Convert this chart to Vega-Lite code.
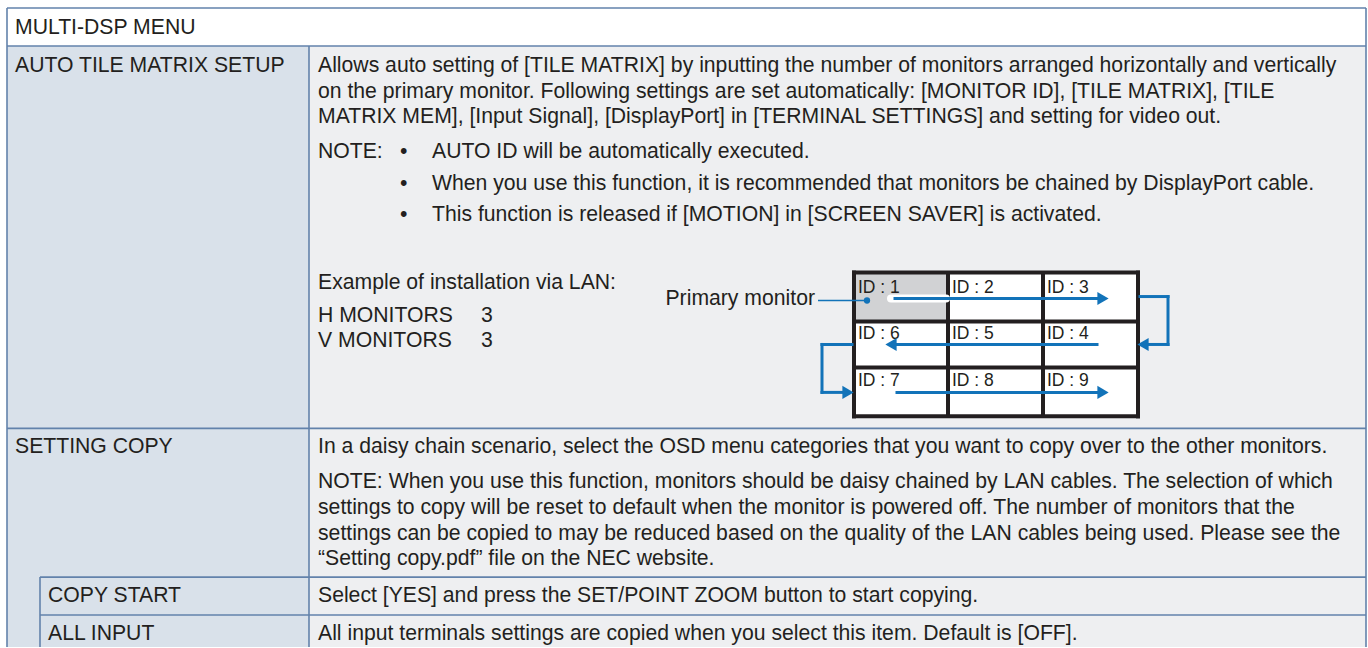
{
  "$schema": "https://vega.github.io/schema/vega-lite/v6.json",
  "width": 1368,
  "height": 648,
  "padding": 0,
  "autosize": {"type": "fit", "contains": "padding"},
  "background": "#ffffff",
  "config": {"view": {"stroke": null}},
  "datasets": {
    "rects": [
      {"x": 7, "x2": 1366, "y": 8, "y2": 46, "kind": "header"},
      {"x": 7, "x2": 309, "y": 46, "y2": 648, "kind": "label"},
      {"x": 309, "x2": 1366, "y": 46, "y2": 648, "kind": "body"},
      {"x": 854, "x2": 948, "y": 273, "y2": 322, "kind": "shade"},
      {"x": 948, "x2": 1043, "y": 273, "y2": 322, "kind": "cell"},
      {"x": 1043, "x2": 1138, "y": 273, "y2": 322, "kind": "cell"},
      {"x": 854, "x2": 948, "y": 322, "y2": 368, "kind": "cell"},
      {"x": 948, "x2": 1043, "y": 322, "y2": 368, "kind": "cell"},
      {"x": 1043, "x2": 1138, "y": 322, "y2": 368, "kind": "cell"},
      {"x": 854, "x2": 948, "y": 368, "y2": 417, "kind": "cell"},
      {"x": 948, "x2": 1043, "y": 368, "y2": 417, "kind": "cell"},
      {"x": 1043, "x2": 1138, "y": 368, "y2": 417, "kind": "cell"}
    ],
    "borders": [
      {"x": 7, "x2": 1366, "y": 8, "y2": 8},
      {"x": 7, "x2": 1366, "y": 46, "y2": 46},
      {"x": 7, "x2": 1366, "y": 429, "y2": 429},
      {"x": 40, "x2": 1366, "y": 578, "y2": 578},
      {"x": 40, "x2": 1366, "y": 616, "y2": 616},
      {"x": 7, "x2": 7, "y": 8, "y2": 648},
      {"x": 1366, "x2": 1366, "y": 8, "y2": 648},
      {"x": 309, "x2": 309, "y": 46, "y2": 648},
      {"x": 40, "x2": 40, "y": 578, "y2": 648}
    ],
    "grid": [
      {"x": 854, "x2": 854, "y": 271, "y2": 419},
      {"x": 948, "x2": 948, "y": 273, "y2": 417},
      {"x": 1043, "x2": 1043, "y": 273, "y2": 417},
      {"x": 1138, "x2": 1138, "y": 271, "y2": 419},
      {"x": 852, "x2": 1140, "y": 273, "y2": 273},
      {"x": 854, "x2": 1138, "y": 322, "y2": 322},
      {"x": 854, "x2": 1138, "y": 368, "y2": 368},
      {"x": 852, "x2": 1140, "y": 417, "y2": 417}
    ],
    "halo": [
      {"x": 891, "x2": 946, "y": 299, "y2": 299}
    ],
    "paths": [
      {"x": 895, "x2": 1098, "y": 299, "y2": 299},
      {"x": 1097, "x2": 896, "y": 345, "y2": 345},
      {"x": 897, "x2": 1098, "y": 393, "y2": 393},
      {"x": 1140, "x2": 1168, "y": 297, "y2": 297},
      {"x": 1168, "x2": 1168, "y": 297, "y2": 345},
      {"x": 1168, "x2": 1147, "y": 345, "y2": 345},
      {"x": 852, "x2": 822, "y": 345, "y2": 345},
      {"x": 822, "x2": 822, "y": 345, "y2": 393},
      {"x": 822, "x2": 844, "y": 393, "y2": 393}
    ],
    "leader": [
      {"x": 818, "x2": 867, "y": 301, "y2": 301}
    ],
    "headsRight": [
      {"x": 1103, "y": 299},
      {"x": 1103, "y": 393},
      {"x": 848, "y": 393}
    ],
    "headsLeft": [
      {"x": 891, "y": 345},
      {"x": 1143, "y": 345}
    ],
    "dot": [
      {"x": 867, "y": 301}
    ],
    "ids": [
      {"x": 858, "y": 288, "label": "ID : 1"},
      {"x": 952, "y": 288, "label": "ID : 2"},
      {"x": 1047, "y": 288, "label": "ID : 3"},
      {"x": 858, "y": 335, "label": "ID : 6"},
      {"x": 952, "y": 335, "label": "ID : 5"},
      {"x": 1047, "y": 335, "label": "ID : 4"},
      {"x": 858, "y": 382, "label": "ID : 7"},
      {"x": 952, "y": 382, "label": "ID : 8"},
      {"x": 1047, "y": 382, "label": "ID : 9"}
    ],
    "texts": [
      {"x": 15, "y": 28, "label": "MULTI-DSP MENU"},
      {"x": 15, "y": 66, "label": "AUTO TILE MATRIX SETUP"},
      {"x": 15, "y": 448, "label": "SETTING COPY"},
      {"x": 48, "y": 597, "label": "COPY START"},
      {"x": 48, "y": 635, "label": "ALL INPUT"},
      {"x": 318, "y": 66, "label": "Allows auto setting of [TILE MATRIX] by inputting the number of monitors arranged horizontally and vertically"},
      {"x": 318, "y": 92, "label": "on the primary monitor. Following settings are set automatically: [MONITOR ID], [TILE MATRIX], [TILE"},
      {"x": 318, "y": 117, "label": "MATRIX MEM], [Input Signal], [DisplayPort] in [TERMINAL SETTINGS] and setting for video out."},
      {"x": 318, "y": 152, "label": "NOTE:"},
      {"x": 400, "y": 152, "label": "•"},
      {"x": 432, "y": 152, "label": "AUTO ID will be automatically executed."},
      {"x": 400, "y": 184, "label": "•"},
      {"x": 432, "y": 184, "label": "When you use this function, it is recommended that monitors be chained by DisplayPort cable."},
      {"x": 400, "y": 215, "label": "•"},
      {"x": 432, "y": 215, "label": "This function is released if [MOTION] in [SCREEN SAVER] is activated."},
      {"x": 318, "y": 283, "label": "Example of installation via LAN:"},
      {"x": 318, "y": 316, "label": "H MONITORS"},
      {"x": 481, "y": 316, "label": "3"},
      {"x": 318, "y": 342, "label": "V MONITORS"},
      {"x": 481, "y": 342, "label": "3"},
      {"x": 318, "y": 448, "label": "In a daisy chain scenario, select the OSD menu categories that you want to copy over to the other monitors."},
      {"x": 318, "y": 483, "label": "NOTE: When you use this function, monitors should be daisy chained by LAN cables. The selection of which"},
      {"x": 318, "y": 509, "label": "settings to copy will be reset to default when the monitor is powered off. The number of monitors that the"},
      {"x": 318, "y": 535, "label": "settings can be copied to may be reduced based on the quality of the LAN cables being used. Please see the"},
      {"x": 318, "y": 560, "label": "“Setting copy.pdf” file on the NEC website."},
      {"x": 318, "y": 597, "label": "Select [YES] and press the SET/POINT ZOOM button to start copying."},
      {"x": 318, "y": 635, "label": "All input terminals settings are copied when you select this item. Default is [OFF]."}
    ],
    "rightTexts": [
      {"x": 815, "y": 299, "label": "Primary monitor"}
    ]
  },
  "layer": [
    {
      "data": {"name": "rects"},
      "mark": {"type": "rect"},
      "encoding": {
        "x": {"field": "x", "type": "quantitative", "scale": {"domain": [0, 1368], "nice": false, "zero": false}, "axis": null},
        "x2": {"field": "x2"},
        "y": {"field": "y", "type": "quantitative", "scale": {"domain": [0, 648], "nice": false, "zero": false, "reverse": true}, "axis": null},
        "y2": {"field": "y2"},
        "color": {"field": "kind", "type": "nominal", "legend": null,
          "scale": {"domain": ["header", "label", "body", "shade", "cell"], "range": ["#ffffff", "#d9e1ea", "#eeeff1", "#d1d2d4", "#ffffff"]}}
      }
    },
    {
      "data": {"name": "borders"},
      "mark": {"type": "rule", "color": "#6282ab", "strokeWidth": 1.6},
      "encoding": {
        "x": {"field": "x", "type": "quantitative"},
        "x2": {"field": "x2"},
        "y": {"field": "y", "type": "quantitative"},
        "y2": {"field": "y2"}
      }
    },
    {
      "data": {"name": "grid"},
      "mark": {"type": "rule", "color": "#231f20", "strokeWidth": 4},
      "encoding": {
        "x": {"field": "x", "type": "quantitative"},
        "x2": {"field": "x2"},
        "y": {"field": "y", "type": "quantitative"},
        "y2": {"field": "y2"}
      }
    },
    {
      "data": {"name": "ids"},
      "mark": {"type": "text", "align": "left", "baseline": "middle", "font": "Liberation Sans", "fontSize": 17.5, "color": "#231f20"},
      "encoding": {
        "x": {"field": "x", "type": "quantitative"},
        "y": {"field": "y", "type": "quantitative"},
        "text": {"field": "label"}
      }
    },
    {
      "data": {"name": "halo"},
      "mark": {"type": "rule", "color": "#ffffff", "strokeWidth": 8, "strokeCap": "round"},
      "encoding": {
        "x": {"field": "x", "type": "quantitative"},
        "x2": {"field": "x2"},
        "y": {"field": "y", "type": "quantitative"},
        "y2": {"field": "y2"}
      }
    },
    {
      "data": {"name": "paths"},
      "mark": {"type": "rule", "color": "#1273b9", "strokeWidth": 3, "strokeCap": "square"},
      "encoding": {
        "x": {"field": "x", "type": "quantitative"},
        "x2": {"field": "x2"},
        "y": {"field": "y", "type": "quantitative"},
        "y2": {"field": "y2"}
      }
    },
    {
      "data": {"name": "leader"},
      "mark": {"type": "rule", "color": "#1273b9", "strokeWidth": 1.4},
      "encoding": {
        "x": {"field": "x", "type": "quantitative"},
        "x2": {"field": "x2"},
        "y": {"field": "y", "type": "quantitative"},
        "y2": {"field": "y2"}
      }
    },
    {
      "data": {"name": "headsRight"},
      "mark": {"type": "point", "shape": "triangle-right", "filled": true, "size": 170, "color": "#1273b9", "opacity": 1},
      "encoding": {
        "x": {"field": "x", "type": "quantitative"},
        "y": {"field": "y", "type": "quantitative"}
      }
    },
    {
      "data": {"name": "headsLeft"},
      "mark": {"type": "point", "shape": "triangle-left", "filled": true, "size": 170, "color": "#1273b9", "opacity": 1},
      "encoding": {
        "x": {"field": "x", "type": "quantitative"},
        "y": {"field": "y", "type": "quantitative"}
      }
    },
    {
      "data": {"name": "dot"},
      "mark": {"type": "point", "shape": "circle", "filled": true, "size": 40, "color": "#1273b9", "opacity": 1},
      "encoding": {
        "x": {"field": "x", "type": "quantitative"},
        "y": {"field": "y", "type": "quantitative"}
      }
    },
    {
      "data": {"name": "texts"},
      "mark": {"type": "text", "align": "left", "baseline": "middle", "font": "Liberation Sans", "fontSize": 21.2, "color": "#231f20"},
      "encoding": {
        "x": {"field": "x", "type": "quantitative"},
        "y": {"field": "y", "type": "quantitative"},
        "text": {"field": "label"}
      }
    },
    {
      "data": {"name": "rightTexts"},
      "mark": {"type": "text", "align": "right", "baseline": "middle", "font": "Liberation Sans", "fontSize": 21.2, "color": "#231f20"},
      "encoding": {
        "x": {"field": "x", "type": "quantitative"},
        "y": {"field": "y", "type": "quantitative"},
        "text": {"field": "label"}
      }
    }
  ]
}
